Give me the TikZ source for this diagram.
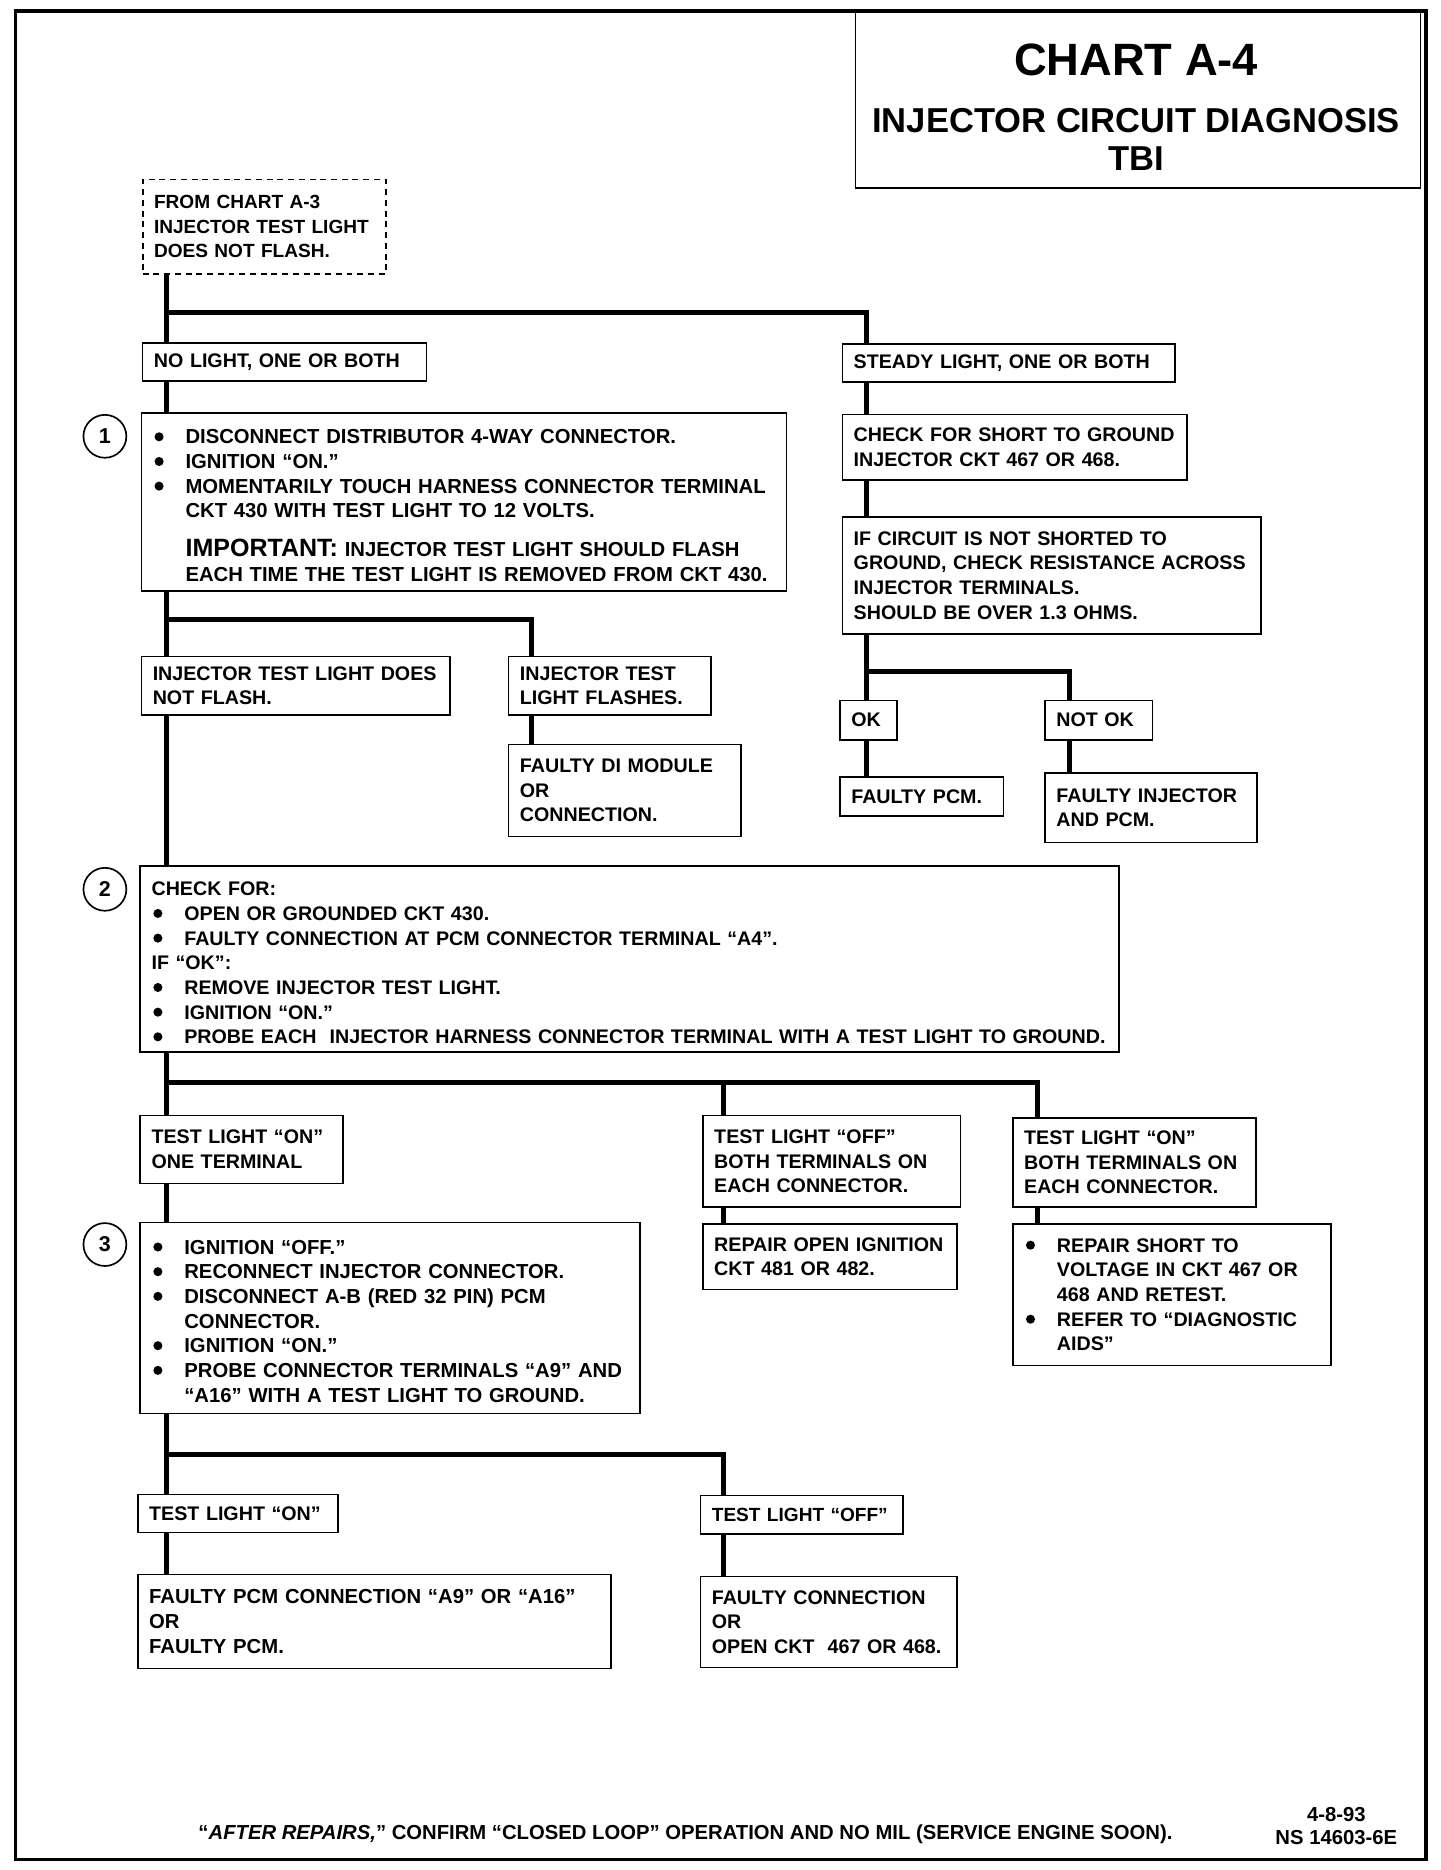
\documentclass[tikz,border=0pt]{standalone}
\usepackage{fontspec}
\setmainfont{Liberation Sans}
\newcommand\bodyf{\fontsize{16.5}{20.7}\selectfont\bfseries}
\newcommand\bl{\makebox[27.5pt][l]{\hspace{1.5pt}\tikz[baseline=0pt]\fill (4pt,5.9pt) circle (3.8pt);}}
\newcommand\ind{\hspace*{27.5pt}}
\tikzset{
  bx/.style={draw, line width=1.3pt, anchor=north west, align=left,
             inner xsep=9.5pt, inner ysep=0pt, font=\bodyf},
  bigtext/.style={font=\fontsize{17}{20.7}\selectfont\bfseries},
  dbx/.style={bx, dash pattern=on 5pt off 4pt, line width=1.4pt},
  conn/.style={line width=4.2pt},
  num/.style={draw, circle, line width=1.4pt, minimum size=36pt, inner sep=0pt,
              font=\fontsize{18}{18}\selectfont\bfseries}
}
\begin{document}
\begin{tikzpicture}[x=1pt,y=-1pt]
\useasboundingbox (0,0) rectangle (1208,1568.7);
\draw[line width=3pt] (13,9) rectangle (1196,1560);

% title
\node[draw, line width=1.4pt, anchor=north west, minimum width=474pt, minimum height=148pt, inner sep=0pt] (title) at (717,9) {};
\node[font=\fontsize{38}{38}\selectfont\bfseries] (ttl1) at (953,50) {CHART A-4};
\node[font=\fontsize{29}{29}\selectfont\bfseries] (ttl2) at (953,101) {INJECTOR CIRCUIT DIAGNOSIS};
\node[font=\fontsize{29}{29}\selectfont\bfseries] (ttl3) at (953,133) {TBI};

% boxes
\node[dbx, text width=185pt, minimum height=79pt, font=\fontsize{16}{20.5}\selectfont\bfseries] (start) at (119,150)
  {FROM CHART A-3\\INJECTOR TEST LIGHT\\DOES NOT FLASH.};
\node[bx, text width=219pt, minimum height=32pt] (nolight) at (119,287)
  {NO LIGHT, ONE OR BOTH};
\node[bx, text width=260pt, minimum height=32pt] (steady) at (706,288)
  {STEADY LIGHT, ONE OR BOTH};
\node[bx, bigtext, text width=522pt, minimum height=149pt] (box1) at (118,346)
  {\rule{0pt}{18pt}\bl DISCONNECT DISTRIBUTOR 4-WAY CONNECTOR.\\
   \bl IGNITION “ON.”\\
   \bl MOMENTARILY TOUCH HARNESS CONNECTOR TERMINAL\\
   \ind CKT 430 WITH TEST LIGHT TO 12 VOLTS.\\[12pt]
   \ind{\fontsize{21}{21}\selectfont IMPORTANT:} INJECTOR TEST LIGHT SHOULD FLASH\\
   \ind EACH TIME THE TEST LIGHT IS REMOVED FROM CKT 430.};
\node[bx, text width=270pt, minimum height=55pt] (chk) at (706,347)
  {CHECK FOR SHORT TO GROUND\\INJECTOR CKT 467 OR 468.};
\node[bx, text width=332pt, minimum height=98pt] (ifc) at (706,433)
  {IF CIRCUIT IS NOT SHORTED TO\\GROUND, CHECK RESISTANCE ACROSS\\INJECTOR TERMINALS.\\SHOULD BE OVER 1.3 OHMS.};
\node[bx, text width=240pt, minimum height=49pt] (nf) at (118,550)
  {INJECTOR TEST LIGHT DOES\\NOT FLASH.};
\node[bx, text width=151pt, minimum height=49pt] (fl) at (426,550)
  {INJECTOR TEST\\LIGHT FLASHES.};
\node[bx, text width=176pt, minimum height=77pt] (di) at (426,624)
  {FAULTY DI MODULE\\OR\\CONNECTION.};
\node[bx, text width=29pt, minimum height=33pt] (ok) at (704,587) {OK};
\node[bx, text width=71pt, minimum height=33pt] (nok) at (876,587) {NOT OK};
\node[bx, text width=118pt, minimum height=33pt] (fpcm) at (704,651) {FAULTY PCM.};
\node[bx, text width=159pt, minimum height=58pt] (finj) at (876,648)
  {FAULTY INJECTOR\\AND PCM.};
\node[bx, text width=802pt, minimum height=156pt] (box2) at (117,726)
  {\rule{0pt}{18pt}CHECK FOR:\\
   \bl OPEN OR GROUNDED CKT 430.\\
   \bl FAULTY CONNECTION AT PCM CONNECTOR TERMINAL “A4”.\\
   IF “OK”:\\
   \bl REMOVE INJECTOR TEST LIGHT.\\
   \bl IGNITION “ON.”\\
   \bl PROBE EACH\ \ INJECTOR HARNESS CONNECTOR TERMINAL WITH A TEST LIGHT TO GROUND.};
\node[bx, text width=151pt, minimum height=57pt] (t1) at (117,935)
  {TEST LIGHT “ON”\\ONE TERMINAL};
\node[bx, text width=197pt, minimum height=77pt] (t2) at (589,935)
  {TEST LIGHT “OFF”\\BOTH TERMINALS ON\\EACH CONNECTOR.};
\node[bx, text width=185pt, minimum height=75pt] (t3) at (849,937)
  {TEST LIGHT “ON”\\BOTH TERMINALS ON\\EACH CONNECTOR.};
\node[bx, text width=194pt, minimum height=55pt] (rep1) at (589,1026)
  {REPAIR OPEN IGNITION\\CKT 481 OR 482.};
\node[bx, text width=248pt, minimum height=119pt] (rep2) at (849,1026)
  {\bl REPAIR SHORT TO\\
   \ind VOLTAGE IN CKT 467 OR\\
   \ind 468 AND RETEST.\\
   \bl REFER TO “DIAGNOSTIC\\
   \ind AIDS”};
\node[bx, bigtext, text width=400pt, minimum height=160pt] (box3) at (117,1025)
  {\rule{0pt}{17pt}\bl IGNITION “OFF.”\\
   \bl RECONNECT INJECTOR CONNECTOR.\\
   \bl DISCONNECT A-B (RED 32 PIN) PCM\\
   \ind CONNECTOR.\\
   \bl IGNITION “ON.”\\
   \bl PROBE CONNECTOR TERMINALS “A9” AND\\
   \ind “A16” WITH A TEST LIGHT TO GROUND.};
\node[bx, text width=149pt, minimum height=32pt] (ton) at (115,1253)
  {TEST LIGHT “ON”};
\node[bx, text width=151pt, minimum height=32pt, font=\fontsize{16}{20.7}\selectfont\bfseries] (toff) at (587,1254)
  {TEST LIGHT “OFF”};
\node[bx, bigtext, text width=378pt, minimum height=79pt] (fpc) at (115,1320)
  {FAULTY PCM CONNECTION “A9” OR “A16”\\OR\\FAULTY PCM.};
\node[bx, text width=196pt, minimum height=76pt] (fcon) at (587,1322)
  {FAULTY CONNECTION\\OR\\OPEN CKT\ \ 467 OR 468.};

% step numbers
\node[num] (c1) at (88,366) {1};
\node[num] (c2) at (88,746) {2};
\node[num] (c3) at (88,1044) {3};

% connector columns and junctions
\coordinate (L) at (140,0);
\coordinate (R) at (727,0);
\coordinate (M) at (446,0);
\coordinate (N) at (897,0);
\coordinate (P) at (607,0);
\coordinate (Q) at (870,0);
\coordinate (jA) at (140,262);
\coordinate (jB) at (140,520);
\coordinate (jC) at (727,563);
\coordinate (jD) at (140,908);
\coordinate (jE) at (140,1220);

\draw[conn] (L |- start.south) -- (L |- nolight.north);
\draw[conn] (jA) -| (R |- steady.north);
\draw[conn] (L |- nolight.south) -- (L |- box1.north);
\draw[conn] (L |- box1.south) -- (L |- nf.north);
\draw[conn] (jB) -| (M |- fl.north);
\draw[conn] (M |- fl.south) -- (M |- di.north);
\draw[conn] (L |- nf.south) -- (L |- box2.north);
\draw[conn] (R |- steady.south) -- (R |- chk.north);
\draw[conn] (R |- chk.south) -- (R |- ifc.north);
\draw[conn] (R |- ifc.south) -- (R |- ok.north);
\draw[conn] (jC) -| (N |- nok.north);
\draw[conn] (R |- ok.south) -- (R |- fpcm.north);
\draw[conn] (N |- nok.south) -- (N |- finj.north);
\draw[conn] (L |- box2.south) -- (L |- t1.north);
\draw[conn] (jD) -| (Q |- t3.north);
\draw[conn] (P |- jD) -- (P |- t2.north);
\draw[conn] (P |- t2.south) -- (P |- rep1.north);
\draw[conn] (Q |- t3.south) -- (Q |- rep2.north);
\draw[conn] (L |- t1.south) -- (L |- box3.north);
\draw[conn] (L |- box3.south) -- (L |- ton.north);
\draw[conn] (jE) -| (P |- toff.north);
\draw[conn] (L |- ton.south) -- (L |- fpc.north);
\draw[conn] (P |- toff.south) -- (P |- fcon.north);

% footer
\node[font=\fontsize{17}{17}\selectfont\bfseries] (foot) at (575,1539)
  {“\textit{AFTER REPAIRS,}” CONFIRM “CLOSED LOOP” OPERATION AND NO MIL (SERVICE ENGINE SOON).};
\node[font=\fontsize{17}{19.5}\selectfont\bfseries, align=center] (date) at (1121,1532)
  {4-8-93\\NS 14603-6E};
\end{tikzpicture}
\end{document}
